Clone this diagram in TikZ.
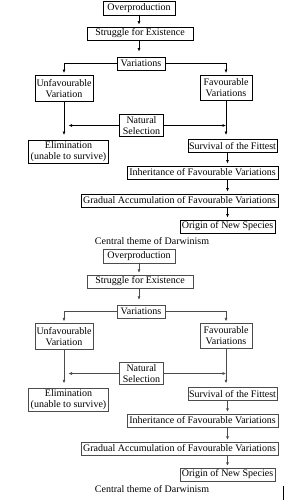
\documentclass[tikz,border=0pt]{standalone}
\usepackage{fontspec}
\setmainfont{Liberation Serif}
\usetikzlibrary{arrows.meta}

\begin{document}
\begin{tikzpicture}[
    x=1pt, y=-1pt,
    >={Latex[length=3.5pt, width=3pt]},
    box/.style  = {draw, inner xsep=1pt, inner ysep=1pt, minimum height=13pt,
                   align=center},
    flow/.style = {->},
    font=\fontsize{10}{11}\selectfont,
  ]

  \useasboundingbox (0,0) rectangle (297,500);

  % --- the chart is printed twice: heavy lines first, then light ones -----
  \foreach \dy/\lw/\col in {0/0.9/black, 248/0.5/black!70} {
  \begin{scope}[shift={(0,\dy)},
      box/.append style={draw=\col, line width=\lw pt},
      flow/.append style={draw=\col, line width=\lw pt}]

    % --- boxes ------------------------------------------------------------
    \node[box, minimum width=72, minimum height=14] (over) at (139,8.5)
      {Overproduction};
    \node[box, minimum width=106] (strug) at (140,33.5)
      {Struggle for Existence};
    \node[box, minimum width=48] (var) at (141,63.5) {Variations};
    \node[box, minimum width=58, minimum height=26] (unfav) at (64,88.5)
      {Unfavourable\\Variation};
    \node[box, minimum width=52, minimum height=25] (fav) at (226,88)
      {Favourable\\Variations};
    \node[box, minimum width=44, minimum height=22, inner ysep=0.5pt]
      (nat) at (141.5,125.5) {Natural\\Selection};
    \node[box, minimum width=80, minimum height=23] (elim) at (68.5,152)
      {Elimination\\(unable to survive)};
    \node[box, minimum width=89] (surv) at (232.5,146)
      {Survival of the Fittest};
    \node[box, minimum width=151] (inher) at (202.5,172.5)
      {Inheritance of Favourable Variations};
    \node[box, minimum width=197] (grad) at (179.5,200.5)
      {Gradual Accumulation of Favourable Variations};
    \node[box, minimum width=95] (orig) at (227.5,226.5)
      {Origin of New Species};
    \node (cap) at (152,241) {Central theme of Darwinism};

    % --- arrows -----------------------------------------------------------
    \draw[flow, shorten >=2pt] (over.south) -- (over.south |- strug.north);
    \draw[flow, shorten >=5pt] (strug.south -| over.south)
      -- (over.south |- var.north);
    \draw[flow, shorten >=2pt] (var.west) -| (unfav.north);
    \draw[flow, shorten >=2pt] (var.east) -| (fav.north);
    \draw[flow, shorten >=5pt] (unfav.south) -- (unfav.south |- elim.north);
    \draw[flow, shorten >=4.5pt] (nat.west) -- (unfav.south |- nat.west);
    \draw[flow] (nat.east) -- (fav.south |- nat.east);
    \draw[flow, shorten >=4pt] (fav.south) -- (fav.south |- surv.north);
    \draw[flow, shorten >=2pt] (surv.south -| orig.north)
      -- (orig.north |- inher.north);
    \draw[flow, shorten >=2pt] (inher.south -| orig.north)
      -- (orig.north |- grad.north);
    \draw[flow, shorten >=2pt] (grad.south -| orig.north) -- (orig.north);

  \end{scope}
  }

  % --- stray rule at the foot of the page ---------------------------------
  \draw[line width=0.6pt] (283,486) -- (283,500);

\end{tikzpicture}
\end{document}
